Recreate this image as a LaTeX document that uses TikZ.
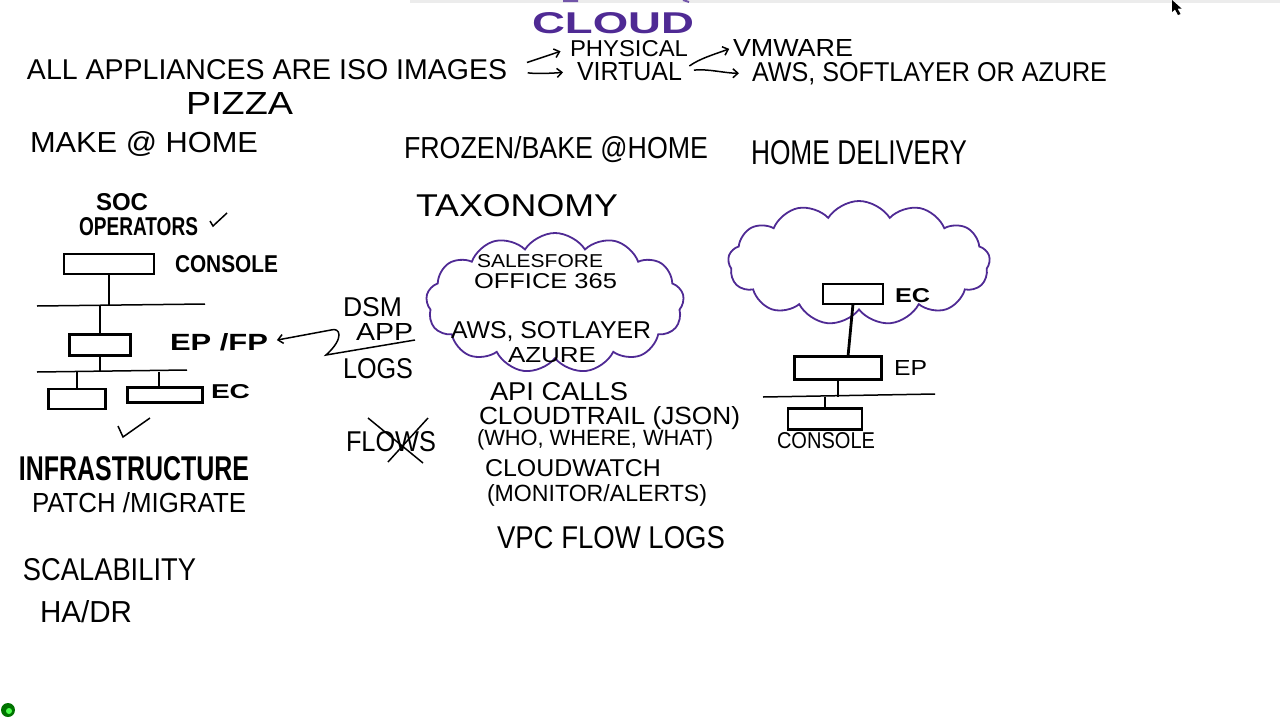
\documentclass[tikz,border=0pt]{standalone}
\usepackage{fontspec}
\usepackage{graphicx}
\newfontfamily\handfont{Liberation Sans}
\usetikzlibrary{arrows.meta,shapes.symbols}

% hand lettering squeezed to a box: width, cap height, text
\newcommand{\hw}[3]{\resizebox{#1pt}{#2pt}{\handfont #3}}
\definecolor{marker}{HTML}{4F2A94}

\begin{document}
\begin{tikzpicture}[x=1pt,y=-1pt,
  txt/.style={inner sep=0pt,outer sep=0pt,anchor=north west},
  hbox/.style={rectangle,draw,line width=2.8pt,inner sep=0pt,outer sep=0pt},
  wire/.style={line width=1.5pt},
  arr/.style={-{Straight Barb[length=5pt,width=9pt]},line width=1.5pt},
  puff/.style={cloud,draw=marker,line width=1.8pt,cloud puffs=13,cloud puff arc=115,inner sep=0pt}
]
\useasboundingbox (0,0) rectangle (1280,720);

% screen edge and cursor
\draw[gray!15,line width=3pt] (410,1) -- (1280,1);
\draw[marker!80,line width=2pt] (563,1) -- (578,1) (683,0) -- (689,2);
\fill (1172,0) -- (1172,12) -- (1175,9.5) -- (1178,15) -- (1180.5,14) -- (1177.5,8.5) -- (1181.5,8.5) -- cycle;
\fill[green!45!black] (8,710) circle (7);
\fill[green!70] (9,711) circle (3);

% heading
\node[txt,text=marker] (cloudT) at (532,12) {\hw{162}{21}{\bfseries CLOUD}};
\node[txt] (allapp) at (27,59) {\hw{480}{20}{ALL APPLIANCES ARE ISO IMAGES}};
\node[txt] (physical) at (570,40) {\hw{118}{16}{PHYSICAL}};
\node[txt] (virtual) at (577,62) {\hw{105}{18}{VIRTUAL}};
\node[txt] (vmware) at (733,39) {\hw{120}{17}{VMWARE}};
\node[txt] (aws) at (752,62) {\hw{355}{19}{AWS, SOFTLAYER OR AZURE}};

\draw[arr,shorten <=21pt,shorten >=10pt] (allapp.east) -- (physical.west);
\draw[arr,shorten <=21pt,shorten >=14pt] (allapp.east) to[out=-10,in=185] (virtual.west);
\draw[arr,shorten <=9pt,shorten >=4pt] (virtual.east) to[out=35,in=200] (vmware.west);
\draw[arr,shorten <=12pt,shorten >=13pt] (virtual.east) to[out=5,in=180] (aws.west);

% pizza analogy
\node[txt] (pizza) at (186,92) {\hw{107}{22}{PIZZA}};
\node[txt] (makehome) at (30,131) {\hw{228}{21}{MAKE @ HOME}};
\node[txt] (frozen) at (404,136) {\hw{304}{22}{FROZEN/BAKE @HOME}};
\node[txt] (delivery) at (751,140) {\hw{216}{24}{HOME DELIVERY}};
\node[txt] (taxonomy) at (416,194) {\hw{202}{22}{TAXONOMY}};

% on premise stack (left)
\node[txt] (soc) at (96,193) {\hw{52}{17}{\bfseries SOC}};
\node[txt] (operators) at (79,217) {\hw{119}{18}{\bfseries OPERATORS}};
\draw[wire] (210,221) -- (213,226) -- (227,213);

\node[hbox,minimum width=90pt,minimum height=20pt] (consoleL) at (109,264) {};
\node[txt] (consoleLbl) at (175,255) {\hw{103}{17}{\bfseries CONSOLE}};
\coordinate (busA) at (37,306);
\coordinate (busB) at (205,304);
\draw[wire] (busA) -- (busB);
\draw[wire] (consoleL.south) -- (consoleL.south |- busA);

\node[hbox,minimum width=61pt,minimum height=21pt] (epL) at (100,345) {};
\node[txt] (epfp) at (170,333) {\hw{98}{17}{\bfseries EP /FP}};
\draw[wire] (epL.north) -- (epL.north |- busA);
\coordinate (busC) at (37,372);
\coordinate (busD) at (187,370);
\draw[wire] (busC) -- (busD);
\draw[wire] (epL.south) -- (epL.south |- busC);

\node[hbox,minimum width=57pt,minimum height=20pt] (ecL1) at (77,399) {};
\node[hbox,minimum width=75pt,minimum height=15pt] (ecL2) at (165,395) {};
\node[txt] (ecLbl) at (211,384) {\hw{39}{14}{\bfseries EC}};
\draw[wire] (ecL1.north) -- (ecL1.north |- busC);
\draw[wire] ([xshift=-6pt]ecL2.north) -- ([xshift=-6pt]ecL2.north |- busC);
\draw[wire] (118,426) -- (123,437) -- (150,418);

\node[txt] (infra) at (19,456) {\hw{230}{24}{\bfseries INFRASTRUCTURE}};
\node[txt] (patch) at (32,492) {\hw{214}{20}{PATCH /MIGRATE}};
\node[txt] (scal) at (23,558) {\hw{173}{22}{SCALABILITY}};
\node[txt] (hadr) at (40,600) {\hw{92}{22}{HA/DR}};

% SaaS / IaaS cloud (middle)
\node[puff,minimum width=258pt,minimum height=140pt] (cloudMid) at (555,303) {};
\node[txt] (sales) at (477,254) {\hw{126}{13}{SALESFORE}};
\node[txt] (office) at (474,273) {\hw{143}{15}{OFFICE 365}};
\node[txt] (awsSot) at (451,321) {\hw{200}{17}{AWS, SOTLAYER}};
\node[txt] (azure) at (508,347) {\hw{88}{15}{AZURE}};

\node[txt] (dsm) at (343,297) {\hw{59}{19}{DSM}};
\node[txt] (app) at (356,323) {\hw{57}{17}{APP}};
\node[txt] (logs) at (343,358) {\hw{70}{20}{LOGS}};
\coordinate (uline) at (415,340);
\draw[arr,shorten >=9pt] (uline) -- (326,355) .. controls (345,338) and (340,327) .. (331,330) -- (epfp.east);

\node[txt] (flows) at (346,431) {\hw{90}{20}{FLOWS}};
\draw[wire] (368,418) -- (423,463);
\draw[wire] (428,418) -- (388,462);

\node[txt] (api) at (490,382) {\hw{138}{18}{API CALLS}};
\node[txt] (trail) at (479,406) {\hw{261}{18}{CLOUDTRAIL (JSON)}};
\node[txt] (who) at (477,429) {\hw{236}{16}{(WHO, WHERE, WHAT)}};
\node[txt] (watch) at (485,459) {\hw{176}{17}{CLOUDWATCH}};
\node[txt] (monitor) at (487,484) {\hw{220}{17}{(MONITOR/ALERTS)}};
\node[txt] (vpc) at (497,526) {\hw{228}{22}{VPC FLOW LOGS}};

% hosted collector (right)
\node[puff,minimum width=262pt,minimum height=124pt] (cloudR) at (859,263) {};
\node[hbox,minimum width=60pt,minimum height=20pt] (ecR) at (853,294) {};
\node[txt] (ecRLbl) at (895,288) {\hw{35}{14}{\bfseries EC}};
\node[hbox,minimum width=87pt,minimum height=23pt] (epR) at (838,368) {};
\node[txt] (epRLbl) at (894,360) {\hw{33}{15}{EP}};
\draw[line width=2.8pt] (ecR.south) -- ([xshift=10pt]epR.north);
\coordinate (busE) at (763,397);
\coordinate (busF) at (935,394);
\draw[wire] (busE) -- (busF);
\draw[wire] (epR.south) -- (epR.south |- busE);
\node[hbox,minimum width=74pt,minimum height=21pt] (consoleR) at (825,419) {};
\draw[wire] (consoleR.north) -- (consoleR.north |- busE);
\node[txt] (consoleRLbl) at (777,432) {\hw{98}{16}{CONSOLE}};

\end{tikzpicture}
\end{document}
